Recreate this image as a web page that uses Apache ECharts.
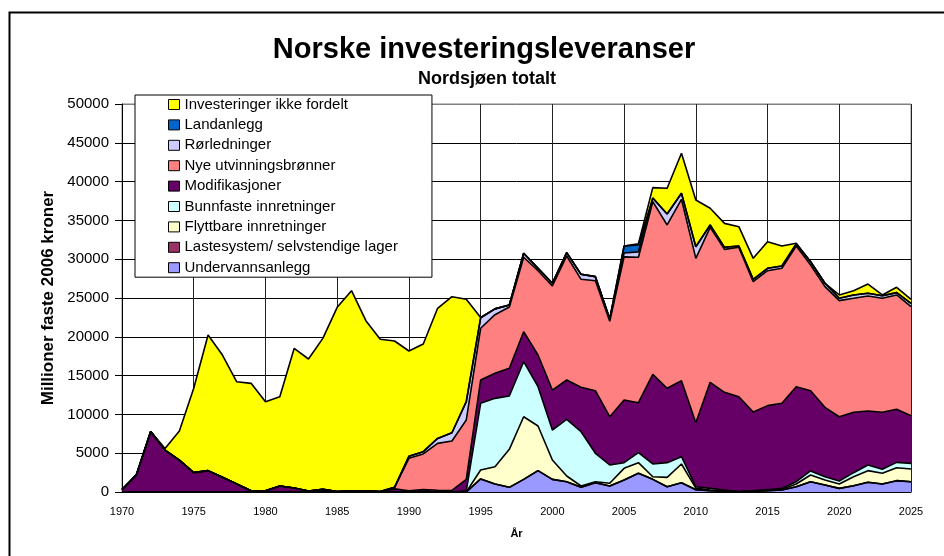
<!DOCTYPE html>
<html>
<head>
<meta charset="utf-8">
<script src="https://cdn.jsdelivr.net/npm/echarts@6/dist/echarts.min.js"></script>
<style>
  html, body { margin: 0; padding: 0; background: #fff; }
  #chart { width: 944px; height: 556px; }
</style>
</head>
<body>
<div id="chart"></div>
<script>
  // år 1970-2025
  var years = ['1970','1971','1972','1973','1974','1975','1976','1977','1978','1979',
    '1980','1981','1982','1983','1984','1985','1986','1987','1988','1989',
    '1990','1991','1992','1993','1994','1995','1996','1997','1998','1999',
    '2000','2001','2002','2003','2004','2005','2006','2007','2008','2009',
    '2010','2011','2012','2013','2014','2015','2016','2017','2018','2019',
    '2020','2021','2022','2023','2024','2025'];

  // millioner kroner, lest av figuren (nederst i stabelen først)
  var undervannsanlegg = [0,0,0,0,0, 0,0,0,0,0, 0,0,0,0,0, 0,0,0,0,0, 0,0,0,0,0,
    1680,1030,600,1630,2750, 1630,1330,600,1200,770, 1550,2410,1630,680,1200,
    300,170,100,20,100, 170,250,680,1330,900, 470,810,1250,1030,1460, 1330];
  var lastesystem = [0,0,0,0,0, 0,0,0,0,0, 0,0,0,0,0, 0,0,0,0,0, 0,0,0,0,0,
    0,0,0,0,0, 0,0,0,0,0, 0,0,0,0,0, 0,0,0,0,0, 0,0,0,0,0, 0,0,0,0,0, 0];
  var flyttbare = [0,0,0,0,0, 0,0,0,0,0, 0,0,0,0,0, 0,0,0,0,0, 0,0,0,0,0,
    1150,2230,4900,8070,5750, 2490,730,170,130,350, 1500,1370,340,1210,2410,
    200,80,50,20,50, 60,100,350,860,650, 560,1160,1500,1380,1670, 1630];
  var bunnfaste = [0,0,0,0,0, 0,0,0,0,0, 0,0,0,0,0, 0,0,0,0,0, 0,0,0,0,150,
    8600,8810,6870,7100,5070, 3870,7310,7000,3660,2360, 730,1290,1640,1890,940,
    180,220,100,20,20, 70,120,300,520,420, 390,520,730,510,690, 730];
  var modifikasjoner = [300,2200,7800,5400,4100, 2500,2750,1900,1030,170,
    170,770,520,130,340, 50,170,170,50,400, 170,300,230,200,1480,
    3000,3230,3570,3860,4080, 5150,5060,5720,8060,6220, 8080,6440,11560,9580,9790,
    8250,13660,12600,12220,10140, 10830,10960,12240,10340,8940, 8280,7780,6960,7350,6840, 6140];
  var nyeBronner = [0,0,0,0,0, 0,0,0,0,0, 0,0,0,0,0, 0,0,0,0,200,
    4170,4600,6040,6370,7650,
    6670,7550,7900,9590,10870, 13410,15980,13920,14180,12300, 18440,18740,22240,21050,23380,
    21180,19980,18420,19250,16790, 17390,17400,18130,16200,15550, 14960,14690,14820,14690,14730, 14050];
  var rorledninger = [0,0,0,0,0, 0,0,0,0,0, 0,0,0,0,0, 0,0,0,0,0,
    260,300,630,1070,2360,
    1350,750,260,510,310, 350,430,640,520,300, 500,700,440,1410,770,
    1500,300,260,170,310, 310,290,260,430,440, 300,430,350,340,300, 440];
  var landanlegg = [0,0,0,0,0, 0,0,0,0,0, 0,0,0,0,0, 0,0,0,0,0, 0,0,0,0,0,
    0,0,0,0,0, 0,0,0,0,0, 900,900,50,0,0, 0,0,0,0,0, 0,0,0,0,0, 0,0,0,0,0, 0];
  var ikkeFordelt = [0,0,0,200,3750, 10860,17480,15750,13170,13830,
    11470,11510,17980,17010,19460, 23750,25770,21910,19630,18860,
    13570,13870,16770,17530,13190,
    50,0,0,0,0, 0,0,0,0,0, 0,150,1320,3320,5160,
    6020,2150,3090,2490,2700, 3430,2580,90,0,0, 430,550,1190,90,690, 510];

  var yTicks = [0, 5000, 10000, 15000, 20000, 25000, 30000, 35000, 40000, 45000, 50000];

  var font = 'Liberation Sans, Arial, sans-serif';

  var lagene = [
    {name: 'Undervannsanlegg', data: undervannsanlegg, color: '#9999FF'},
    {name: 'Lastesystem/ selvstendige lager', data: lastesystem, color: '#993366'},
    {name: 'Flyttbare innretninger', data: flyttbare, color: '#FFFFCC'},
    {name: 'Bunnfaste innretninger', data: bunnfaste, color: '#CCFFFF'},
    {name: 'Modifikasjoner', data: modifikasjoner, color: '#660066'},
    {name: 'Nye utvinningsbrønner', data: nyeBronner, color: '#FF8080'},
    {name: 'Rørledninger', data: rorledninger, color: '#CCCCFF'},
    {name: 'Landanlegg', data: landanlegg, color: '#0066CC'},
    {name: 'Investeringer ikke fordelt', data: ikkeFordelt, color: '#FFFF00'}
  ];

  var series = lagene.map(function (l) {
    return {
      name: l.name,
      type: 'line',
      stack: 'total',
      data: l.data,
      showSymbol: false,
      symbol: 'none',
      color: l.color,
      itemStyle: {color: l.color},
      lineStyle: {color: '#000', width: 1.6},
      areaStyle: {color: l.color, opacity: 1}
    };
  });

  var hGrid = yTicks.map(function (v, i) { return i === yTicks.length - 1 ? '#808080' : '#000'; });

  var chart = echarts.init(document.getElementById('chart'));
  chart.setOption({
    animation: false,
    backgroundColor: '#fff',
    textStyle: {fontFamily: font},
    graphic: [
      {type: 'rect', left: 7, top: 10, shape: {width: 960, height: 600},
        style: {fill: 'none', stroke: '#000', lineWidth: 2}, silent: true},
      {type: 'text', x: 484, y: 50, style: {text: 'Norske investeringsleveranser',
        font: 'bold 29px ' + font, fill: '#000', textAlign: 'center', textVerticalAlign: 'middle'}},
      {type: 'text', x: 487, y: 79, style: {text: 'Nordsjøen totalt',
        font: 'bold 18px ' + font, fill: '#000', textAlign: 'center', textVerticalAlign: 'middle'}}
    ],
    legend: {
      orient: 'vertical',
      left: 135,
      top: 95,
      padding: [2, 34, 2, 33],
      itemGap: 5.4,
      itemWidth: 11,
      itemHeight: 10,
      icon: 'rect',
      backgroundColor: '#fff',
      borderColor: '#000',
      borderWidth: 1,
      itemStyle: {borderColor: '#000', borderWidth: 1},
      textStyle: {fontSize: 15, color: '#000', fontFamily: font, lineHeight: 15},
      data: lagene.map(function (l) { return l.name; }).reverse()
    },
    grid: {
      left: 122, right: 33, top: 104, bottom: 64,
      show: true, borderColor: '#808080', borderWidth: 1
    },
    xAxis: {
      type: 'category',
      data: years,
      boundaryGap: false,
      name: 'År',
      nameLocation: 'middle',
      nameGap: 36,
      nameTextStyle: {fontSize: 11, fontWeight: 'bold', color: '#000', fontFamily: font},
      axisLine: {lineStyle: {color: '#000', width: 1}},
      axisTick: {show: false},
      axisLabel: {interval: 4, fontSize: 11, color: '#000', margin: 14, fontFamily: font},
      splitLine: {show: true, interval: 4, lineStyle: {color: '#222', width: 1}}
    },
    yAxis: {
      type: 'value',
      min: 0,
      max: 50000,
      interval: 5000,
      name: 'Millioner faste 2006 kroner',
      nameLocation: 'middle',
      nameGap: 62,
      nameTextStyle: {fontSize: 17, fontWeight: 'bold', color: '#000', fontFamily: font},
      axisLine: {show: true, lineStyle: {color: '#000', width: 1}},
      axisTick: {show: true, length: 7, lineStyle: {color: '#000'}},
      axisLabel: {fontSize: 15, color: '#000', margin: 13, fontFamily: font,
        formatter: function (v) { return String(v); }},
      splitLine: {show: true, lineStyle: {color: hGrid, width: 1}}
    },
    series: series
  });
</script>
</body>
</html>
